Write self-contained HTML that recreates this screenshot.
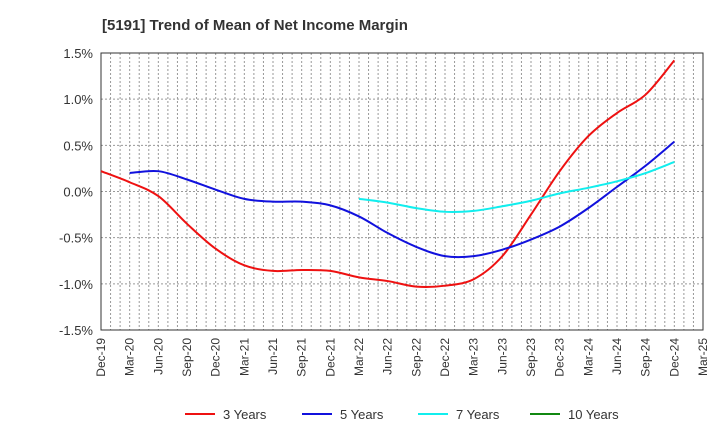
<!DOCTYPE html>
<html><head><meta charset="utf-8"><style>
body{margin:0;background:#fff;font-family:"Liberation Sans",sans-serif;}
svg text{font-family:"Liberation Sans",sans-serif;}
</style></head><body>
<svg id="chart" width="720" height="440">
<text x="102" y="30" font-size="15" font-weight="bold" fill="#333">[5191]  Trend of Mean of Net Income Margin</text>
<g id="grid"></g>
<g id="axes"></g>
<g id="series"></g>
<g id="legend"></g>
</svg>
<script>
const xLabels=["Dec-19","Mar-20","Jun-20","Sep-20","Dec-20","Mar-21","Jun-21","Sep-21","Dec-21","Mar-22","Jun-22","Sep-22","Dec-22","Mar-23","Jun-23","Sep-23","Dec-23","Mar-24","Jun-24","Sep-24","Dec-24","Mar-25"];
const yTicks=[1.5,1.0,0.5,0.0,-0.5,-1.0,-1.5];
const yTickLabels=["1.5%","1.0%","0.5%","0.0%","-0.5%","-1.0%","-1.5%"];
const s3=[0.22,0.10,-0.05,-0.35,-0.62,-0.80,-0.86,-0.85,-0.86,-0.93,-0.97,-1.03,-1.02,-0.95,-0.70,-0.25,0.22,0.60,0.85,1.05,1.42];
const s5=[null,0.20,0.22,0.13,0.02,-0.08,-0.11,-0.11,-0.15,-0.27,-0.45,-0.60,-0.70,-0.70,-0.63,-0.52,-0.38,-0.18,0.05,0.28,0.54];
const s7=[null,null,null,null,null,null,null,null,null,-0.08,-0.12,-0.18,-0.22,-0.21,-0.16,-0.10,-0.02,0.04,0.11,0.20,0.32];
const s10=[];
const seriesNames=["3 Years","5 Years","7 Years","10 Years"];
const colors=["#ee1111","#1111dd","#11eeee","#118811"];
const L=101,R=703,T=53,B=330,NM=63;
const xm=m=>L+(R-L)*m/NM;
const xq=i=>xm(i*3);
const y=v=>T+(1.5-v)/3*(B-T);
const NS="http://www.w3.org/2000/svg";
function mk(tag,attrs,parent){const e=document.createElementNS(NS,tag);for(const k in attrs)e.setAttribute(k,attrs[k]);parent.appendChild(e);return e;}
const grid=document.getElementById('grid'),axes=document.getElementById('axes'),ser=document.getElementById('series'),leg=document.getElementById('legend');
for(let m=1;m<NM;m++){const l=mk('line',{x1:xm(m),x2:xm(m),y1:T,y2:B,stroke:'#999','stroke-width':1,'stroke-dasharray':'2,2'},grid);

}
yTicks.forEach((v,i)=>{if(i>0&&i<yTicks.length-1){const l=mk('line',{x1:L,x2:R,y1:y(v),y2:y(v),stroke:'#999','stroke-width':1,'stroke-dasharray':'2,2'},grid);

}
const t=mk('text',{x:L-8,y:y(v)+5,'text-anchor':'end','font-size':13,fill:'#333'},axes);t.textContent=yTickLabels[i];

});
const fr=mk('rect',{x:L,y:T,width:R-L,height:B-T,fill:'none',stroke:'#333','stroke-width':1},axes);


xLabels.forEach((s,i)=>{const x=xq(i);const t=mk('text',{x:0,y:0,'text-anchor':'end','font-size':12,fill:'#333',transform:`translate(${x+4},${B+8}) rotate(-90)`},axes);t.textContent=s;

});
function path(data){const pts=[];data.forEach((v,i)=>{if(v!=null)pts.push([xq(i),y(v)]);});if(pts.length<2)return '';
let d=`M${pts[0][0]},${pts[0][1]}`;for(let i=0;i<pts.length-1;i++){const p0=pts[Math.max(0,i-1)],p1=pts[i],p2=pts[i+1],p3=pts[Math.min(pts.length-1,i+2)];
const c1=[p1[0]+(p2[0]-p0[0])/6,p1[1]+(p2[1]-p0[1])/6],c2=[p2[0]-(p3[0]-p1[0])/6,p2[1]-(p3[1]-p1[1])/6];d+=` C${c1[0]},${c1[1]} ${c2[0]},${c2[1]} ${p2[0]},${p2[1]}`;}return d;}
[s3,s5,s7,s10].forEach((s,k)=>{const d=path(s);if(!d)return;const p=mk('path',{d:d,fill:'none',stroke:colors[k],'stroke-width':2},ser);

});
const lx=[185,302,418,530];
seriesNames.forEach((n,k)=>{const l=mk('line',{x1:lx[k],x2:lx[k]+30,y1:414,y2:414,stroke:colors[k],'stroke-width':2},leg);


const t=mk('text',{x:lx[k]+38,y:419,'font-size':13,fill:'#333'},leg);t.textContent=n;

});
</script>
</body></html>
